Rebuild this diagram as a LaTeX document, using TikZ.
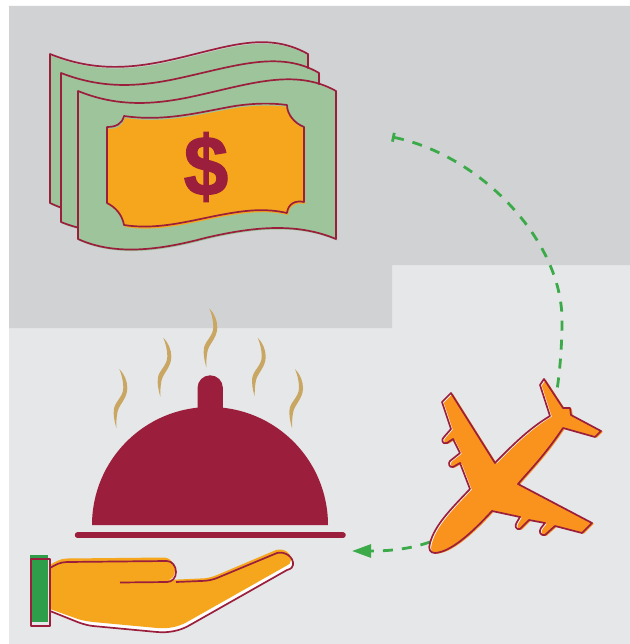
\documentclass[tikz,border=0pt]{standalone}
\usepackage{fontspec}
\newfontfamily\dollarfont[UprightFont=* Bold,FakeBold=1.6]{Liberation Sans}
\usetikzlibrary{arrows.meta}
\definecolor{panelgrey}{HTML}{D1D2D4}
\definecolor{panellight}{HTML}{E6E7E8}
\definecolor{crimson}{HTML}{9B1F3C}
\definecolor{billgreen}{HTML}{9DC49B}
\definecolor{amber}{HTML}{F5A61D}
\definecolor{planeorange}{HTML}{F9931D}
\definecolor{routegreen}{HTML}{3BAA49}
\definecolor{cuffgreen}{HTML}{2E9E4B}
\definecolor{steamtan}{HTML}{C9A661}
\tikzset{
  outline/.style={draw=crimson,line width=1.7,line join=round},
  routeline/.style={routegreen,line width=2.8,dash pattern=on 10pt off 9pt},
  wisp/.style={fill=steamtan}
}
\newcommand{\billA}{(50,54) .. controls (90,70) and (125,70) .. (170,60) .. controls (225,48) and (265,30) .. (308,54) -- (308,120) -- (308,190) .. controls (270,170) and (225,190) .. (170,204) .. controls (125,215) and (90,222) .. (50,203) -- cycle}
\newcommand{\billB}{(61,73) .. controls (100,88) and (135,88) .. (180,78) .. controls (235,66) and (280,50) .. (319,73) -- (319,140) -- (319,205) .. controls (280,190) and (235,205) .. (180,218) .. controls (135,230) and (100,238) .. (61,222) -- cycle}
\newcommand{\billC}{(78,91) .. controls (115,106) and (150,106) .. (195,96) .. controls (250,84) and (295,68) .. (336,91) -- (336,239) .. controls (300,224) and (260,225) .. (205,238) .. controls (160,250) and (115,256) .. (78,239) -- cycle}
\newcommand{\billPanel}{(107,127) .. controls (116,127) and (122,124) .. (124,116) .. controls (165,122) and (200,112) .. (235,106) .. controls (255,103) and (272,103) .. (287,105) .. controls (287,114) and (294,123) .. (304,127) -- (304,202) .. controls (295,200) and (288,204) .. (287,213) .. controls (265,208) and (245,210) .. (215,216) .. controls (185,222) and (155,230) .. (124,225) .. controls (122,214) and (115,207) .. (107,203) -- cycle}
\newcommand{\planeShape}{(430,543) .. controls (435,525) and (450,510) .. (470,489) -- (460,463) -- (453,467) .. controls (449,468) and (448,463) .. (450,461) -- (460,453) -- (453,439) -- (447,443) .. controls (442,445) and (441,439) .. (444,437) -- (451,429) -- (442,402) -- (451,393) -- (495,463) .. controls (520,437) and (535,425) .. (550,416) -- (540,385) -- (544,379) -- (563,408) -- (570,408) -- (571,415) -- (601,431) -- (595,437) -- (563,428) .. controls (545,455) and (530,470) .. (518,484) -- (592,523) -- (582,533) -- (555,526) -- (545,535) .. controls (541,536) and (538,532) .. (541,528) -- (545,523) -- (529,520) -- (520,529) .. controls (516,530) and (514,526) .. (517,522) -- (520,517) -- (492,511) .. controls (470,535) and (450,552) .. (435,553) .. controls (430,553) and (428,549) .. (430,543) -- cycle}
\newcommand{\steamShape}{(0,0) .. controls (5,5) and (8,12) .. (8,19) .. controls (8,30) and (-1,36) .. (-2,44) .. controls (-3,50) and (-3,54) .. (-3,59) .. controls (-5,52) and (-6,46) .. (-5.5,41) .. controls (-5,33) and (4,28) .. (4,19) .. controls (4,11) and (2,5) .. (0,0) -- cycle}
\begin{document}
\begin{tikzpicture}[x=1pt,y=-1pt]
\useasboundingbox (0,0) rectangle (629,644);
\fill[panellight] (9,6) rectangle (630,644);
\fill[panelgrey] (9,6) -- (630,6) -- (630,265) -- (392,265) -- (392,328) -- (9,328) -- cycle;
\fill[billgreen,shift={(1,1.5)}] \billA;
\draw[outline] \billA;
\fill[billgreen,shift={(1,1.5)}] \billB;
\draw[outline] \billB;
\fill[billgreen,shift={(1,1.5)}] \billC;
\draw[outline] \billC;
\fill[amber,shift={(1,2)}] \billPanel;
\draw[outline] \billPanel;
\node[inner sep=0,crimson,yscale=1.06] (dollar) at (206,167) {\dollarfont\fontsize{80}{80}\selectfont\$};
\foreach \wx/\wy in {209.3/308.3,163.3/337.7,257.7/337.7,119.3/369,295/369}
  \fill[wisp,shift={(\wx,\wy)}] \steamShape;
\fill[crimson] (197.5,410) -- (197.5,388) arc[start angle=180,end angle=0,x radius=12.7,y radius=-12.7] -- (222.9,410) -- cycle;
\fill[crimson] (92,525) arc[start angle=180,end angle=0,x radius=118,y radius=-118] -- cycle;
\draw[crimson,line width=5.5,line cap=round] (77.5,535.2) -- (343,535.2);
\fill[white] (50,568) .. controls (55,565) and (60,562) .. (67,562) -- (167,561) .. controls (172,561) and (176,566) .. (176,572) .. controls (176,578) and (172,582) .. (167,582) -- (200,581) .. controls (207,581) and (212,580) .. (217,578) -- (277,553) .. controls (285,551) and (294,557) .. (293,565) .. controls (293,567) and (291,569) .. (287,570) -- (190,625) .. controls (180,631) and (168,633) .. (157,632) -- (93,626) .. controls (85,625) and (80,623) .. (75,621) -- (50,611) -- cycle;
\fill[amber] (50,565) .. controls (55,562) and (60,558.5) .. (67,558.5) -- (165,557.5) .. controls (171,558) and (175,565) .. (175,570) .. controls (175,576) and (172,580) .. (167,580) -- (200,578.5) .. controls (207,578.5) and (212,577) .. (217,575) -- (276,550) .. controls (284,548) and (292,553) .. (291,560) .. controls (291,563) and (289,565) .. (286,566) -- (187,622) .. controls (178,627) and (168,629) .. (157,628) -- (93,622) .. controls (85,621) and (80,620) .. (75,618) -- (50,609) -- cycle;
\fill[cuffgreen] (30,555) rectangle (48,621.5);
\draw[outline] (31,559) rectangle (50,626);
\draw[outline] (50,568) .. controls (55,565) and (60,562) .. (67,562) -- (167,561) .. controls (172,561) and (176,566) .. (176,572) .. controls (176,578) and (172,582) .. (167,582) -- (120,582.5);
\draw[outline] (176,582) -- (200,581) .. controls (207,581) and (212,580) .. (217,578) -- (277,553) .. controls (285,551) and (294,557) .. (293,565) .. controls (293,567) and (291,569) .. (287,570) -- (190,625) .. controls (180,631) and (168,633) .. (157,632) -- (93,626) .. controls (85,625) and (80,623) .. (75,621) -- (50,611);
\coordinate (routeStart) at (392,137);
\coordinate (tailEnd) at (557,390);
\coordinate (noseEnd) at (430,542);
\coordinate (trayTip) at (352,551);
\draw[routeline,{Bar[width=9pt,length=2pt]}-] (routeStart) .. controls (480,155) and (562,240) .. (562,320) .. controls (562,345) and (560,370) .. (tailEnd);
\draw[routeline,-{Triangle[length=19pt,width=13pt]}] (noseEnd) .. controls (410,549) and (390,551) .. (trayTip);
\fill[white] \planeShape;
\fill[planeorange,shift={(1.8,0.7)}] \planeShape;
\draw[outline] \planeShape;
\end{tikzpicture}
\end{document}
